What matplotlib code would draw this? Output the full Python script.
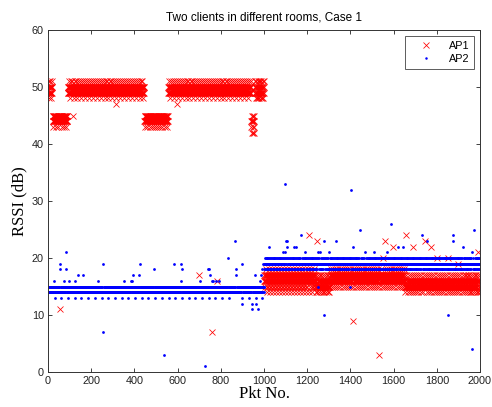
import numpy as np
import matplotlib
matplotlib.use("Agg")
import matplotlib.pyplot as plt

# ---------------- data ----------------
# AP1: packet segments and the RSSI levels seen within each band
AP1_SEG_START = [1, 21, 91, 446, 556, 941, 956, 1001, 1236, 1306, 1651, 1931]
AP1_SEG_END = [20, 90, 445, 555, 940, 955, 1000, 1235, 1305, 1650, 1930, 2000]
AP1_SEG_LEVELS = [
    [50, 49, 51, 50, 49, 48, 50, 49],
    [44, 45, 44, 45, 43, 44, 45, 44, 45, 44],
    [50, 49, 50, 49, 51, 50, 49, 50, 49, 48, 50, 49, 50, 49, 51, 50, 49, 50],
    [44, 45, 44, 45, 43, 44, 45, 44, 45, 44],
    [50, 49, 50, 49, 51, 50, 49, 50, 49, 48, 50, 49, 50, 49, 51, 50, 49, 50],
    [44, 43, 45, 42, 44],
    [50, 49, 51, 50, 49, 48],
    [16, 17, 16, 17, 15, 16, 17, 16, 18, 17, 16, 15, 17, 14],
    [15, 16, 15, 14, 16, 15, 17, 16],
    [17, 16, 17, 16, 18, 17, 16, 17, 15, 16],
    [15, 16, 15, 16, 14, 15, 16, 15, 17, 16],
    [16, 15, 16, 15, 17, 14, 16, 15],
]
AP1_OUT_PKT = [115, 315, 597, 55, 700, 760, 782, 1208, 1245, 1412, 1532, 1560,
               1597, 1657, 1690, 1745, 1773, 1990, 1852, 1550, 1800, 1900]
AP1_OUT_VAL = [45, 47, 47, 11, 17, 7, 16, 24, 23, 9, 3, 23,
               22, 24, 22, 23, 22, 21, 20, 20, 20, 19]

# AP2
AP2_SEG_START = [1, 1001]
AP2_SEG_END = [1000, 2000]
AP2_SEG_LEVELS = [
    [14, 15] * 15 + [13],
    [19, 18, 19, 20],
]
AP2_OUT_PKT = [27, 55, 57, 83, 85, 72, 96, 127, 138, 164, 232, 254, 256, 352, 383,
               389, 394, 420, 427, 491, 537, 583, 614, 618, 622, 705, 725, 740, 745,
               750, 760, 765, 780, 790, 832, 868, 870, 872, 897, 900, 943, 945, 958,
               965, 970, 980, 985, 990, 995,
               1023, 1090, 1095, 1097, 1100, 1105, 1107, 1137, 1150, 1172, 1190,
               1250, 1252, 1260, 1278, 1280, 1300, 1333, 1398, 1403, 1413, 1444,
               1468, 1507, 1571, 1589, 1622, 1645, 1730, 1753, 1851, 1875, 1877,
               1920, 1962, 1964, 1972]
AP2_OUT_VAL = [16, 19, 18, 21, 18, 16, 16, 16, 17, 17, 16, 19, 7, 16, 16,
               16, 17, 17, 19, 18, 3, 19, 16, 19, 18, 16, 1, 18, 18,
               17, 16, 16, 16, 16, 20, 23, 17, 18, 12, 19, 12, 11, 17,
               12, 11, 16, 17, 18, 19,
               22, 21, 21, 33, 23, 23, 22, 22, 22, 24, 21,
               15, 21, 21, 23, 10, 21, 23, 15, 32, 22, 25,
               21, 21, 21, 26, 22, 22, 24, 23, 10, 24, 23,
               22, 21, 4, 25]


def build(starts, ends, levels, out_pkt, out_val):
    pk, vals = [], []
    for s, e, lv in zip(starts, ends, levels):
        n = e - s + 1
        pk.extend(range(s, e + 1))
        vals.extend(np.resize(np.array(lv), n).tolist())
    pk = np.array(pk)
    vals = np.array(vals, dtype=float)
    for p, v in zip(out_pkt, out_val):
        vals[pk == p] = v
    return pk, vals


p1, v1 = build(AP1_SEG_START, AP1_SEG_END, AP1_SEG_LEVELS, AP1_OUT_PKT, AP1_OUT_VAL)
p2, v2 = build(AP2_SEG_START, AP2_SEG_END, AP2_SEG_LEVELS, AP2_OUT_PKT, AP2_OUT_VAL)

# ---------------- plot ----------------
plt.rcParams['font.family'] = ['Liberation Sans', 'DejaVu Sans']
fig = plt.figure(figsize=(4.92, 4.07), dpi=100)
ax = fig.add_axes([0.0976, 0.086, 0.878, 0.840])

ax.plot(p1, v1, linestyle='none', marker='x', color='red', markersize=4.3,
        markeredgewidth=0.55, label='AP1')
ax.plot(p2, v2, linestyle='none', marker='o', color='blue', markersize=2.0,
        markeredgewidth=0, label='AP2')

ax.set_xlim(0, 2000)
ax.set_ylim(0, 60)
ax.set_xticks(np.arange(0, 2001, 200))
ax.set_yticks(np.arange(0, 61, 10))
ax.tick_params(direction='in', top=True, right=True, labelsize=7.8, length=3,
               width=0.6, colors='#222222', pad=3)
for sp in ax.spines.values():
    sp.set_linewidth(0.7)
    sp.set_color('#333333')

ax.set_title('Two clients in different rooms, Case 1', fontsize=8.5, pad=7)
ax.set_xlabel('Pkt No.', family=['Liberation Serif'], fontsize=12, labelpad=0)
ax.set_ylabel('RSSI (dB)', family=['Liberation Serif'], fontsize=12, labelpad=3)

leg = ax.legend(loc='upper right', fontsize=7.8, frameon=True, fancybox=False,
                edgecolor='#333333', borderpad=0.45, handlelength=3.0,
                handletextpad=0.6, labelspacing=0.25, borderaxespad=0.55,
                markerscale=0.9)
leg.get_frame().set_linewidth(0.7)

fig.savefig('out.png', dpi=100)
